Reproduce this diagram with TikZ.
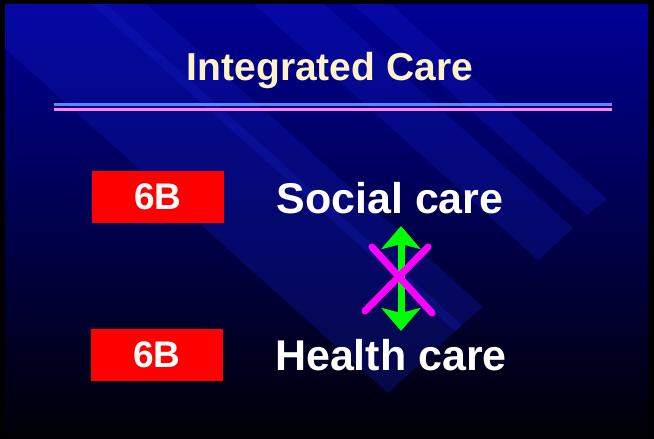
\documentclass[tikz,border=0pt]{standalone}
\usepackage{fontspec}
\setmainfont{Liberation Sans}
\usetikzlibrary{arrows.meta,shapes}
\definecolor{slidetop}{RGB}{0,0,150}
\definecolor{slidebot}{RGB}{0,0,6}
\definecolor{bandblue}{RGB}{20,30,200}
\definecolor{titlecream}{RGB}{255,242,200}
\definecolor{ruleblue}{RGB}{100,130,255}
\definecolor{rulepink}{RGB}{255,130,240}
\definecolor{crossmag}{RGB}{255,0,255}
\definecolor{linkgreen}{RGB}{0,255,0}
\definecolor{tagred}{RGB}{255,0,0}
\tikzstyle{band}=[fill=bandblue,fill opacity=0.28]
\tikzstyle{tag}=[fill=tagred,text=white,font=\bfseries\fontsize{37}{40}\selectfont,minimum width=132pt,minimum height=52pt,inner sep=0pt]
\tikzstyle{care}=[text=white,font=\bfseries\fontsize{43}{46}\selectfont,anchor=base,inner sep=0pt]
\tikzstyle{link} = [draw=linkgreen,line width=7pt,{Stealth[width=39pt,length=23pt,inset=5pt]}-{Stealth[width=39pt,length=23pt,inset=5pt]}]
\tikzstyle{cross} = [draw=crossmag,line width=7pt,line cap=round]

\begin{document}
\begin{tikzpicture}[x=1pt,y=-1pt]
    % First we draw the slide background
    \fill[black] (0,0) rectangle (654,439);
    \shade[top color=slidetop,bottom color=slidebot] (5,4) rectangle (648,437);
    \begin{scope}
        \clip (5,4) rectangle (648,437);
        \foreach \ax/\ay/\bx/\by in {388/393/462/325, 455/331/483/307, 538/260/573/228, 587/215/607/199}
            \fill[band] (\ax,\ay) -- (\bx,\by) -- (\bx-520,\by-468) -- (\ax-520,\ay-468) -- cycle;
    \end{scope}
    % Title and rules
    \node[text=titlecream,font=\bfseries\fontsize{39}{42}\selectfont,anchor=base,inner sep=0pt] (title) at (330,80) {Integrated Care};
    \draw[ruleblue,line width=3pt] (54,104) -- (612,104);
    \draw[rulepink,line width=3pt] (54,109) -- (612,109);
    % Tags and labels
    \node[tag] (tag1) at (158,197) {6B};
    \node[tag] (tag2) at (157,354.5) {6B};
    \node[care] (social) at (390,213) {Social care};
    \node[care] (health) at (391,370) {Health care};
    % Connect them with the arrow and strike it out
    \coordinate (up) at (401,226);
    \coordinate (down) at (401,331);
    \path[link] (up) -- (down);
    \foreach \source/\dest in {{(372,247)/(432,313)}, {(428,247)/(365,311)}}
        \path[cross] \source -- \dest;
\end{tikzpicture}
\end{document}
